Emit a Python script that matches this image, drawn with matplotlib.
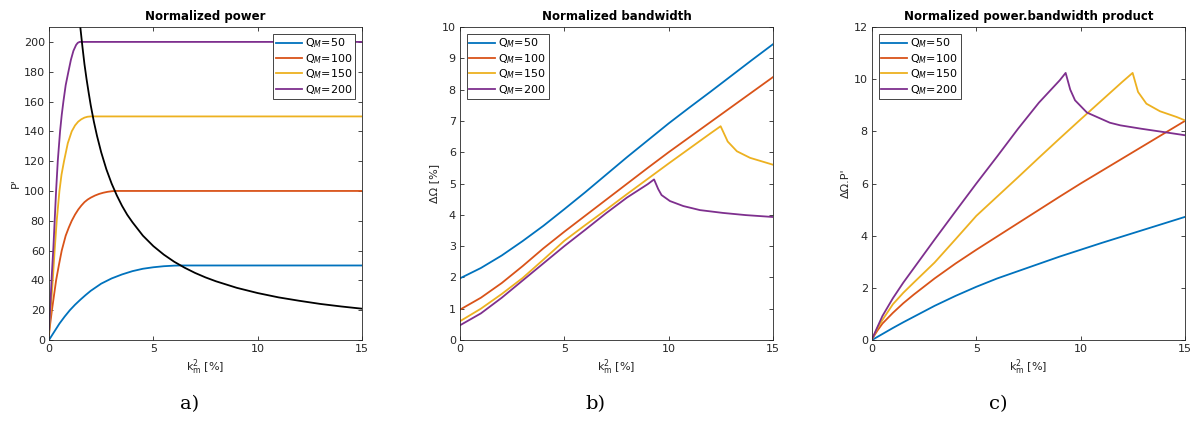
import matplotlib
matplotlib.use("Agg")
import matplotlib.pyplot as plt

# ---------------- data ----------------
labels = ["Q$_M$=50", "Q$_M$=100", "Q$_M$=150", "Q$_M$=200"]
colors = ["#0072BD", "#D95319", "#EDB120", "#7E2F8E"]

# Panel a: normalized power P'
pa_x50 = [0, 0.25, 0.5, 0.75, 1.0, 1.25, 1.5, 1.75, 2.0, 2.5, 3.0, 3.5, 4.0, 4.5, 5.0, 5.5, 6.0, 6.3, 15]
pa_y50 = [0, 5.5, 11, 15.7, 20, 23.7, 27, 30.1, 33, 37.8, 41.3, 44, 46.2, 47.8, 48.8, 49.5, 49.9, 50, 50]
pa_x100 = [0, 0.05, 0.14, 0.24, 0.34, 0.47, 0.61, 0.8, 0.95, 1.09, 1.25, 1.4, 1.55, 1.7, 1.85, 2.0, 2.2, 2.4, 2.6, 2.8, 3.0, 3.15, 15]
pa_y100 = [3.5, 10, 20, 30, 40, 50, 60, 70, 75.5, 80, 84.2, 87.5, 90.2, 92.5, 94.2, 95.5, 96.9, 98, 98.8, 99.4, 99.8, 100, 100]
pa_x150 = [0, 0.04, 0.09, 0.18, 0.27, 0.37, 0.5, 0.6, 0.72, 0.9, 1.09, 1.25, 1.4, 1.55, 1.7, 1.85, 2.0, 15]
pa_y150 = [5, 12, 22, 40, 60, 80, 100, 111, 120, 132, 140, 144, 146.5, 148.1, 149.2, 149.8, 150, 150]
pa_x200 = [0, 0.03, 0.07, 0.14, 0.21, 0.34, 0.42, 0.53, 0.61, 0.69, 0.8, 0.93, 1.05, 1.17, 1.3, 1.38, 1.47, 15]
pa_y200 = [7, 14, 25, 45, 62, 100, 120, 140, 151, 160, 171, 180, 188, 194, 198, 199.4, 200, 200]
pa_xlim = [1.45, 1.5, 1.6, 1.7, 1.8, 1.9, 2.0, 2.15, 2.3, 2.5, 2.75, 3.0, 3.25, 3.5, 3.75, 4.0, 4.5, 5.0,
           5.5, 6.0, 6.5, 7.0, 7.5, 8.0, 9.0, 10.0, 11.0, 12.0, 13.0, 14.0, 15.0]
pa_ylim = [217, 210, 197, 185, 175, 166, 157.5, 146.5, 137, 126, 114.5, 105, 97, 90, 84, 79, 70, 63,
           57.3, 52.5, 48.5, 45, 42, 39.4, 35, 31.5, 28.6, 26.3, 24.2, 22.5, 21]

# Panel b: normalized bandwidth dOmega [%]
pb_x50 = [0, 1, 2, 3, 4, 5, 6, 7, 8, 9, 10, 11, 12, 13, 14, 15]
pb_y50 = [1.97, 2.3, 2.7, 3.16, 3.65, 4.18, 4.72, 5.28, 5.84, 6.38, 6.92, 7.43, 7.93, 8.44, 8.95, 9.45]
pb_x100 = [0, 1, 2, 3, 4, 5, 6, 7, 8, 9, 10, 11, 12, 13, 14, 15]
pb_y100 = [0.97, 1.35, 1.82, 2.36, 2.93, 3.46, 3.97, 4.48, 4.99, 5.5, 6.0, 6.48, 6.96, 7.44, 7.92, 8.4]
pb_x150 = [0, 1, 2, 3, 4, 5, 6, 7, 8, 9, 10, 11, 12, 12.49, 12.83, 13.27, 13.9, 14.55, 15]
pb_y150 = [0.6, 1.0, 1.47, 1.98, 2.57, 3.17, 3.67, 4.16, 4.66, 5.15, 5.64, 6.12, 6.6, 6.83, 6.34, 6.03, 5.82, 5.69, 5.6]
pb_x200 = [0, 1, 2, 3, 4, 5, 6, 7, 8, 9, 9.3, 9.5, 9.66, 10.06, 10.7, 11.5, 12.6, 13.7, 15]
pb_y200 = [0.47, 0.85, 1.35, 1.9, 2.45, 3.0, 3.52, 4.05, 4.55, 4.98, 5.13, 4.82, 4.63, 4.44, 4.28, 4.15, 4.06, 3.99, 3.93]

# Panel c: normalized power.bandwidth product
pc_x50 = [0, 0.5, 1, 1.5, 2, 3, 4, 5, 6, 7, 8, 9, 10, 11, 12, 13, 14, 15]
pc_y50 = [0, 0.23, 0.46, 0.68, 0.89, 1.31, 1.69, 2.04, 2.36, 2.64, 2.92, 3.2, 3.46, 3.72, 3.97, 4.22, 4.47, 4.72]
pc_x100 = [0, 0.25, 0.5, 1, 1.5, 2, 2.5, 3, 4, 5, 6, 7, 8, 9, 10, 11, 12, 13, 14, 15]
pc_y100 = [0.03, 0.35, 0.63, 1.04, 1.41, 1.74, 2.05, 2.36, 2.93, 3.46, 3.97, 4.48, 4.99, 5.5, 6.0, 6.48, 6.96, 7.44, 7.92, 8.4]
pc_x150 = [0, 0.25, 0.5, 1, 1.5, 2, 3, 4, 5, 6, 7, 8, 9, 10, 11, 12, 12.49, 12.75, 13.15, 13.8, 14.6, 15]
pc_y150 = [0.03, 0.44, 0.77, 1.37, 1.81, 2.2, 2.97, 3.86, 4.76, 5.5, 6.24, 6.99, 7.73, 8.46, 9.18, 9.9, 10.24, 9.51, 9.06, 8.77, 8.55, 8.42]
pc_x200 = [0, 0.25, 0.5, 1, 1.5, 2, 3, 4, 5, 6, 7, 8, 9, 9.28, 9.5, 9.73, 10.3, 11.4, 11.9, 12.9, 14.0, 15]
pc_y200 = [0.03, 0.48, 0.92, 1.6, 2.2, 2.75, 3.85, 4.93, 6.0, 7.04, 8.1, 9.1, 9.96, 10.24, 9.6, 9.19, 8.72, 8.33, 8.23, 8.1, 7.97, 7.85]

x_ticks = [0, 5, 10, 15]
titles = ["Normalized power", "Normalized bandwidth", "Normalized power.bandwidth product"]
ylabels = ["P'", "ΔΩ [%]", "ΔΩ.P'"]
xlabel = "k$_\\mathregular{m}^\\mathregular{2}$ [%]"
panel_tags = ["a)", "b)", "c)"]

# ---------------- figure ----------------
plt.rcParams["font.family"] = ["DejaVu Sans"]
plt.rcParams["font.size"] = 8
fig = plt.figure(figsize=(11.93, 4.22), dpi=100)

W, H = 1193.0, 422.0
lefts = [49, 460, 872]
ax_w, top_px, bot_px = 313, 27, 340

series = [
    ([pa_x50, pa_x100, pa_x150, pa_x200], [pa_y50, pa_y100, pa_y150, pa_y200]),
    ([pb_x50, pb_x100, pb_x150, pb_x200], [pb_y50, pb_y100, pb_y150, pb_y200]),
    ([pc_x50, pc_x100, pc_x150, pc_x200], [pc_y50, pc_y100, pc_y150, pc_y200]),
]
ylims = [(0, 210), (0, 10), (0, 12)]
yticks = [list(range(0, 201, 20)), list(range(0, 11)), list(range(0, 13, 2))]
legend_loc = ["upper right", "upper left", "upper left"]
tag_x = [190, 595, 998]

for i in range(3):
    ax = fig.add_axes([lefts[i] / W, 1 - bot_px / H, ax_w / W, (bot_px - top_px) / H])
    xs, ys = series[i]
    for xv, yv, c, lab in zip(xs, ys, colors, labels):
        ax.plot(xv, yv, color=c, lw=1.3, label=lab)
    if i == 0:
        ax.plot(pa_xlim, pa_ylim, color="black", lw=1.3)
    ax.set_xlim(0, 15)
    ax.set_ylim(*ylims[i])
    ax.set_xticks(x_ticks)
    ax.set_yticks(yticks[i])
    ax.tick_params(direction="in", top=True, right=True, length=3, width=0.6,
                   color="#262626", labelsize=8, labelcolor="#262626", pad=3)
    for s in ax.spines.values():
        s.set_color("#262626")
        s.set_linewidth(0.6)
    ax.set_title(titles[i], fontsize=8.5, fontweight="bold", pad=5)
    ax.set_xlabel(xlabel, fontsize=8, color="#262626", labelpad=2)
    ax.set_ylabel(ylabels[i], fontsize=8, color="#262626", labelpad=2)
    leg = ax.legend(loc=legend_loc[i], fontsize=8, frameon=True, fancybox=False,
                    framealpha=1, edgecolor="#262626", handlelength=2.3,
                    labelspacing=0.15, borderpad=0.25, handletextpad=0.3,
                    borderaxespad=0.6)
    leg.get_frame().set_linewidth(0.6)
    fig.text(tag_x[i] / W, 1 - 404 / H, panel_tags[i], fontsize=14,
             family="DejaVu Serif", ha="center", va="center")

fig.savefig("out.png", dpi=100)
